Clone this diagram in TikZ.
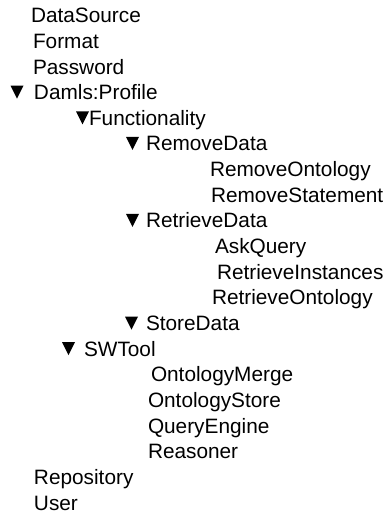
\documentclass[tikz,border=0pt]{standalone}
\usepackage{fontspec}
\setmainfont{Liberation Sans}
% expanded-branch marker: filled triangle pointing down, top-left corner at (#1,#2)
\newcommand\branchmark[2]{\fill[black] (#1,#2) -- ++(13,0) -- ++(-6.5,13) -- cycle;}
\begin{document}
\begin{tikzpicture}[x=1pt,y=-1pt,
  item/.style={anchor=base west, inner sep=0pt, outer sep=0pt,
               font=\fontsize{20.8}{25}\selectfont}]
\useasboundingbox (0,0) rectangle (389,515);
\def\pitch{25.65}
\def\first{22.7}
% top-level properties
\node[item] (datasource)  at (31,  \first+0*\pitch)  {DataSource};
\node[item] (format)      at (33,  \first+1*\pitch)  {Format};
\node[item] (password)    at (33,  \first+2*\pitch)  {Password};
\node[item] (profile)     at (34,  \first+3*\pitch)  {Damls:Profile};
\branchmark{10.5}{\first+3*\pitch-14}
% functionality subtree
\node[item] (function)    at (89,  \first+4*\pitch)  {Functionality};
\branchmark{76}{\first+4*\pitch-14}
\node[item] (removedata)  at (146, \first+5*\pitch)  {RemoveData};
\branchmark{126}{\first+5*\pitch-14}
\node[item] (removeont)   at (210, \first+6*\pitch)  {RemoveOntology};
\node[item] (removestmt)  at (211, \first+7*\pitch)  {RemoveStatement};
\node[item] (retrieve)    at (146, \first+8*\pitch)  {RetrieveData};
\branchmark{126}{\first+8*\pitch-14}
\node[item] (askquery)    at (215, \first+9*\pitch)  {AskQuery};
\node[item] (retrinst)    at (217, \first+10*\pitch) {RetrieveInstances};
\node[item] (retront)     at (212, \first+11*\pitch) {RetrieveOntology};
\node[item] (storedata)   at (146, \first+12*\pitch) {StoreData};
\branchmark{125}{\first+12*\pitch-14}
% tool subtree
\node[item] (swtool)      at (84,  \first+13*\pitch) {SWTool};
\branchmark{62}{\first+13*\pitch-14}
\node[item] (ontmerge)    at (151, \first+14*\pitch) {OntologyMerge};
\node[item] (ontstore)    at (148, \first+15*\pitch) {OntologyStore};
\node[item] (queryengine) at (148, \first+16*\pitch) {QueryEngine};
\node[item] (reasoner)    at (148, \first+17*\pitch) {Reasoner};
% remaining properties
\node[item] (repository)  at (34,  \first+18*\pitch) {Repository};
\node[item] (user)        at (34,  \first+19*\pitch) {User};
\end{tikzpicture}
\end{document}
